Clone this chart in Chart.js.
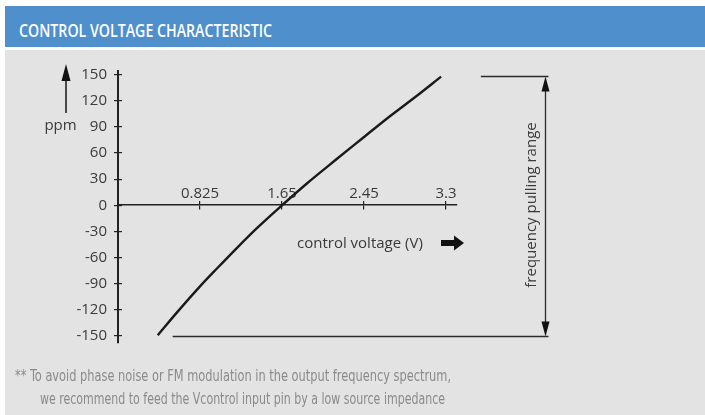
<!DOCTYPE html>
<html>
<head>
<meta charset="utf-8">
<script src="https://cdn.jsdelivr.net/npm/chart.js@4.4.1/dist/chart.umd.min.js"></script>
<style>
  html, body { margin: 0; padding: 0; background: #ffffff; width: 705px; height: 415px; overflow: hidden; }
  #hdr { position: absolute; left: 5px; top: 6px; width: 700px; height: 41px; background: #4F8FCC; }
  #title { position: absolute; left: 14px; top: 15px; color: #ffffff; font: 600 18px/1 "Open Sans", sans-serif; white-space: nowrap; transform-origin: 0 50%; display: inline-block; }
  #panel { position: absolute; left: 5px; top: 50px; width: 700px; height: 365px; background: #E3E3E3; }
  #chart { position: absolute; left: 0; top: 0; }
  .lbl { position: absolute; font: 15px/1 "Open Sans", sans-serif; color: #3a3a3a; white-space: nowrap; }
  .note { position: absolute; font: 16px/1 "Liberation Sans Narrow", "DejaVu Sans Condensed", sans-serif; color: #8a8a8a; white-space: nowrap; transform-origin: 0 50%; display: inline-block; }
  svg { position: absolute; overflow: visible; }
</style>
</head>
<body>
<div id="hdr"><span id="title">CONTROL VOLTAGE CHARACTERISTIC</span></div>
<div id="panel">
  <canvas id="chart" width="700" height="365"></canvas>
  <svg style="left:0;top:0" width="700" height="365">
    <line x1="61" y1="30" x2="61" y2="63" stroke="#222" stroke-width="1.6"/>
    <polygon points="61,14 56.5,31 65.5,31" fill="#111"/>
    <rect x="436" y="190" width="13" height="6" fill="#111"/>
    <polygon points="449,185.5 459,193 449,200.5" fill="#111"/>
  </svg>
  <div class="lbl" id="ppm" style="left:40px;top:66.7px">ppm</div>
  <div class="lbl" id="xtitle" style="left:292px;top:184.7px">control voltage (V)</div>
  <div class="lbl" id="rangeTxt" style="left:525px;top:155px;transform:translate(-50%,-50%) rotate(-90deg);">frequency pulling range</div>
  <span class="note" id="n1" style="left:10px;top:317.5px">** To avoid phase noise or FM modulation in the output frequency spectrum,</span>
  <span class="note" id="n2" style="left:35px;top:340.5px">we recommend to feed the Vcontrol input pin by a low source impedance</span>
</div>
<script>
// ---- data ----
const voltage = [0.40, 0.60, 0.825, 1.00, 1.20, 1.40, 1.65, 1.90, 2.20, 2.45, 2.70, 3.00, 3.25];
const ppm     = [-149, -122, -93, -72, -48.5, -26, 0, 25, 53, 76, 99, 125, 147.5];
const xTickValues = [0.825, 1.65, 2.475, 3.3];
const xTickLabels = ['0.825', '1.65', '2.45', '3.3'];
const yTickValues = [-150, -120, -90, -60, -30, 0, 30, 60, 90, 120, 150];
const pullingRange = [-150, 148];

// ---- annotation geometry (in axis units) ----
const xMin = 0, xMax = 3.41, yMin = -158, yMax = 154;
const rangeBottomFrom = 0.55, rangeTopFrom = 3.65, rangeTo = 4.33, rangeArrowAt = 4.30;

function fitWidth(id, w) {
  const el = document.getElementById(id);
  const cw = el.getBoundingClientRect().width;
  if (cw > 0) el.style.transform = 'scaleX(' + (w / cw) + ')';
}
fitWidth('title', 253);
fitWidth('n1', 436);
fitWidth('n2', 405);
(function () {
  const p = document.getElementById('ppm');
  p.style.left = (55.5 - p.getBoundingClientRect().width / 2) + 'px';
})();

Chart.defaults.font.family = '"Open Sans", sans-serif';
Chart.defaults.font.size = 15;
Chart.defaults.color = '#3a3a3a';

const setTicks = (vals) => (scale) => { scale.ticks = vals.map(v => ({ value: v })); };

const rangePlugin = {
  id: 'pullingRange',
  afterDraw(chart) {
    const { ctx, scales: { x, y } } = chart;
    const yb = Math.round(y.getPixelForValue(pullingRange[0])) + 0.5;
    const yt = Math.round(y.getPixelForValue(pullingRange[1])) + 0.5;
    const xa = Math.round(x.getPixelForValue(rangeArrowAt)) + 0.5;
    ctx.save();
    ctx.strokeStyle = '#2a2a2a';
    ctx.fillStyle = '#111';
    ctx.lineWidth = 1.3;
    ctx.beginPath();
    ctx.moveTo(x.getPixelForValue(rangeBottomFrom), yb);
    ctx.lineTo(x.getPixelForValue(rangeTo), yb);
    ctx.moveTo(x.getPixelForValue(rangeTopFrom), yt);
    ctx.lineTo(x.getPixelForValue(rangeTo), yt);
    ctx.moveTo(xa, yt + 10);
    ctx.lineTo(xa, yb - 10);
    ctx.stroke();
    const head = 15, hw = 4;
    ctx.beginPath();
    ctx.moveTo(xa, yt); ctx.lineTo(xa - hw, yt + head); ctx.lineTo(xa + hw, yt + head); ctx.closePath();
    ctx.fill();
    ctx.beginPath();
    ctx.moveTo(xa, yb); ctx.lineTo(xa - hw, yb - head); ctx.lineTo(xa + hw, yb - head); ctx.closePath();
    ctx.fill();
    ctx.restore();
  }
};

new Chart(document.getElementById('chart'), {
  type: 'line',
  data: {
    datasets: [{
      data: voltage.map((v, i) => ({ x: v, y: ppm[i] })),
      borderColor: '#1a1a1a',
      borderWidth: 2.4,
      pointRadius: 0,
      fill: false,
      cubicInterpolationMode: 'monotone',
      xAxisID: 'x',
      yAxisID: 'y'
    }]
  },
  options: {
    responsive: false,
    animation: false,
    events: [],
    layout: { padding: { left: 53, right: 248, top: 21, bottom: 72 } },
    plugins: { legend: { display: false }, tooltip: { enabled: false }, title: { display: false } },
    scales: {
      x: {
        type: 'linear', axis: 'x', min: xMin, max: xMax,
        position: { y: 0 },
        afterBuildTicks: setTicks(xTickValues),
        ticks: { autoSkip: false, maxRotation: 0, padding: -25, callback: (v, i) => xTickLabels[i] },
        grid: { drawOnChartArea: false, drawTicks: true, tickLength: 4, color: '#222', lineWidth: 1.2 },
        border: { color: '#222', width: 1.6 }
      },
      x2: {
        type: 'linear', axis: 'x', min: xMin, max: xMax,
        position: { y: 0 },
        afterBuildTicks: setTicks(xTickValues),
        ticks: { display: false },
        grid: { drawOnChartArea: false, drawTicks: true, tickLength: -4, color: '#222', lineWidth: 1.2 },
        border: { display: false }
      },
      y: {
        type: 'linear', axis: 'y', min: yMin, max: yMax,
        position: 'left',
        afterBuildTicks: setTicks(yTickValues),
        afterFit: (s) => { s.width = 60; },
        ticks: { autoSkip: false, padding: 7, callback: (v) => String(v) },
        grid: { drawOnChartArea: false, drawTicks: true, tickLength: 4, color: '#222', lineWidth: 1.2 },
        border: { color: '#222', width: 2 }
      },
      y2: {
        type: 'linear', axis: 'y', min: yMin, max: yMax,
        position: { x: 0 },
        afterBuildTicks: setTicks(yTickValues),
        ticks: { display: false },
        grid: { drawOnChartArea: false, drawTicks: true, tickLength: -4, color: '#222', lineWidth: 1.2 },
        border: { display: false }
      }
    }
  },
  plugins: [rangePlugin]
});
</script>
</body>
</html>
